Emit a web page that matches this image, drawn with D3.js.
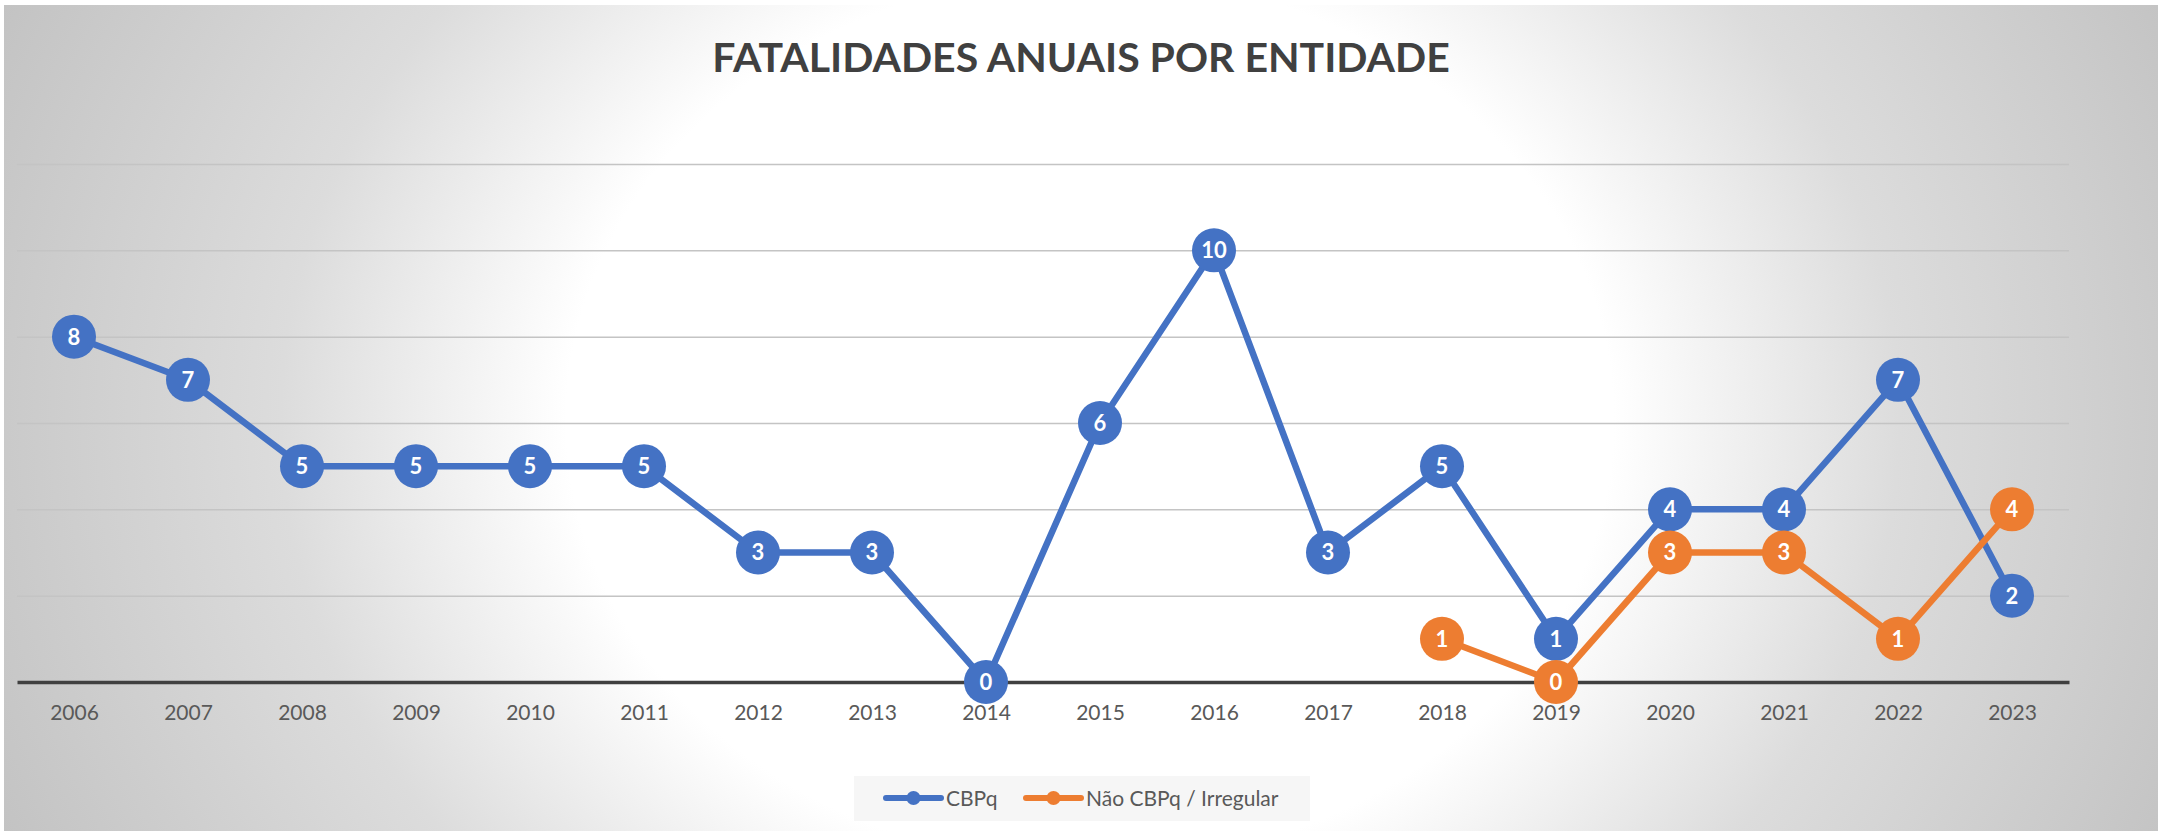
<!DOCTYPE html>
<html>
<head>
<meta charset="utf-8">
<script src="https://cdn.jsdelivr.net/npm/d3@7"></script>
<style>
  body { margin: 0; background: #fff; }
  text { font-family: Lato, "Open Sans", sans-serif; }
</style>
</head>
<body>
<svg id="chart"></svg>
<script>
// Chart data
const years = ["2006", "2007", "2008", "2009", "2010", "2011", "2012", "2013", "2014",
    "2015", "2016", "2017", "2018", "2019", "2020", "2021", "2022", "2023"];
const cbpq = [8, 7, 5, 5, 5, 5, 3, 3, 0, 6, 10, 3, 5, 1, 4, 4, 7, 2];
const naoCbpq = [null, null, null, null, null, null, null, null, null,
    null, null, null, 1, 0, 3, 3, 1, 4];
const gridTicks = [2, 4, 6, 8, 10, 12];
const seriesNames = ["CBPq", "Não CBPq / Irregular"];
const seriesColors = ["#4472C4", "#ED7D31"];
const title = "FATALIDADES ANUAIS POR ENTIDADE";

const width = 2158;
const height = 831;

const svg = d3.select('#chart')
    .attr('width', width)
    .attr('height', height);

// Background radial gradient (white center, grey edges)
const defs = svg.append('defs');
const grad = defs.append('radialGradient')
    .attr('id', 'bg')
    .attr('gradientUnits', 'userSpaceOnUse')
    .attr('cx', 1090).attr('cy', 420).attr('r', 1190)
    .attr('gradientTransform', 'translate(1090,420) scale(1,0.85) translate(-1090,-420)');
grad.append('stop').attr('offset', 0).attr('stop-color', '#ffffff');
grad.append('stop').attr('offset', 0.44).attr('stop-color', '#ffffff');
grad.append('stop').attr('offset', 0.68).attr('stop-color', '#dcdcdc');
grad.append('stop').attr('offset', 1).attr('stop-color', '#c3c3c3');

svg.append('rect')
    .attr('x', 4).attr('y', 5)
    .attr('width', width - 4).attr('height', height - 5)
    .attr('fill', 'url(#bg)');

// Scales
const x = d3.scalePoint()
    .domain(years)
    .range([17, 2069])
    .padding(0.5);

const y = d3.scaleLinear()
    .domain([0, 12])
    .range([682, 164]);

// Gridlines
svg.append('g')
    .attr('transform', 'translate(17,0)')
    .call(d3.axisLeft(y).tickValues(gridTicks).tickSize(-(2069 - 17)).tickFormat(''))
    .call(g => g.select('.domain').remove())
    .call(g => g.selectAll('line').attr('stroke', '#c4c4c4').attr('stroke-width', 1.5));

// X axis
svg.append('g')
    .attr('transform', `translate(0,${y(0)})`)
    .call(d3.axisBottom(x).tickSize(0).tickSizeOuter(0))
    .call(g => g.select('.domain').attr('stroke', '#404040').attr('stroke-width', 3.5))
    .call(g => g.selectAll('text')
        .attr('y', 38).attr('dy', 0)
        .attr('fill', '#595959')
        .style('font-size', '21px'));

// Title
svg.append('text')
    .attr('x', 1081).attr('y', 72)
    .attr('text-anchor', 'middle')
    .attr('fill', '#404040')
    .style('font-size', '41px')
    .style('font-weight', 'bold')
    .text(title);

// Series
const series = [cbpq, naoCbpq];
const line = d3.line()
    .defined(d => d.v !== null)
    .x(d => x(d.year))
    .y(d => y(d.v));

series.forEach((values, i) => {
    const points = years.map((year, j) => ({ year, v: values[j] }));
    const shown = points.filter(d => d.v !== null);
    const g = svg.append('g');

    g.append('path')
        .datum(points)
        .attr('d', line)
        .attr('fill', 'none')
        .attr('stroke', seriesColors[i])
        .attr('stroke-width', 6.5)
        .attr('stroke-linejoin', 'round');

    g.selectAll('circle')
        .data(shown)
        .enter().append('circle')
        .attr('cx', d => x(d.year))
        .attr('cy', d => y(d.v))
        .attr('r', 22)
        .attr('fill', seriesColors[i]);

    g.selectAll('text')
        .data(shown)
        .enter().append('text')
        .attr('x', d => x(d.year))
        .attr('y', d => y(d.v))
        .attr('dy', '0.36em')
        .attr('text-anchor', 'middle')
        .attr('fill', '#ffffff')
        .style('font-size', '22px')
        .style('font-weight', 'bold')
        .text(d => d.v);
});

// Legend
const legend = svg.append('g');
legend.append('rect')
    .attr('x', 854).attr('y', 776)
    .attr('width', 456).attr('height', 45)
    .attr('fill', '#f6f6f6');

const legendX = [886, 1026];
seriesNames.forEach((name, i) => {
    const lx = legendX[i];
    legend.append('line')
        .attr('x1', lx).attr('x2', lx + 55)
        .attr('y1', 798).attr('y2', 798)
        .attr('stroke', seriesColors[i])
        .attr('stroke-width', 6)
        .attr('stroke-linecap', 'round');
    legend.append('circle')
        .attr('cx', lx + 27.5).attr('cy', 798)
        .attr('r', 7)
        .attr('fill', seriesColors[i]);
    legend.append('text')
        .attr('x', lx + 60).attr('y', 805.5)
        .attr('fill', '#595959')
        .style('font-size', '21px')
        .text(name);
});
</script>
</body>
</html>
